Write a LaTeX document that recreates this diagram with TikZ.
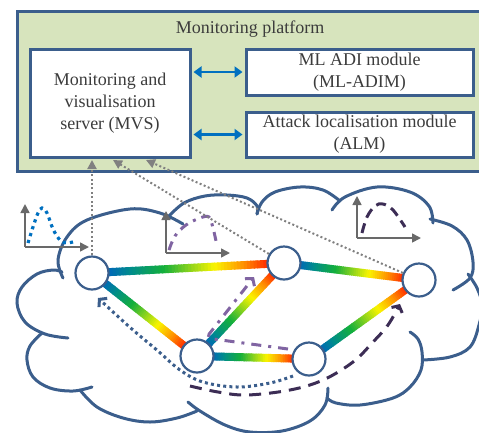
\documentclass[tikz,border=0pt]{standalone}
\usepackage{fontspec}
\setmainfont{Liberation Serif}
\usetikzlibrary{arrows.meta,calc}
\definecolor{platfill}{RGB}{215,228,189}
\definecolor{frameblue}{RGB}{59,94,140}
\definecolor{linkblue}{RGB}{0,112,192}
\definecolor{axgray}{RGB}{105,105,105}
\definecolor{dotgray}{RGB}{128,128,128}
\definecolor{purp}{RGB}{128,100,162}
\definecolor{darkpurp}{RGB}{60,45,85}
\definecolor{txt}{RGB}{60,60,60}
\definecolor{gA}{RGB}{0,100,190}
\definecolor{gB}{RGB}{0,140,140}
\definecolor{gC}{RGB}{20,175,60}
\definecolor{gD}{RGB}{250,245,0}
\definecolor{gE}{RGB}{255,150,0}
\definecolor{gF}{RGB}{255,30,0}
\newcommand\setsegcolor[1]{%
  \ifnum#1<15 \pgfmathtruncatemacro\segP{100*(#1)/15}\colorlet{segc}{gB!\segP!gA}%
  \else\ifnum#1<35 \pgfmathtruncatemacro\segP{100*(#1-15)/20}\colorlet{segc}{gC!\segP!gB}%
  \else\ifnum#1<66 \pgfmathtruncatemacro\segP{100*(#1-35)/31}\colorlet{segc}{gD!\segP!gC}%
  \else\ifnum#1<83 \pgfmathtruncatemacro\segP{100*(#1-66)/17}\colorlet{segc}{gE!\segP!gD}%
  \else \pgfmathtruncatemacro\segP{100*(#1-83)/17}\colorlet{segc}{gF!\segP!gE}%
  \fi\fi\fi\fi}
\newcommand\gradedge[2]{%
  \coordinate (gs) at ($(#1)!14pt!(#2)$);
  \coordinate (ge) at ($(#2)!14pt!(#1)$);
  \foreach \segI in {0,...,49}{%
    \pgfmathtruncatemacro\segM{2*\segI+1}%
    \setsegcolor{\segM}%
    \pgfmathsetmacro\segA{\segI/50}%
    \pgfmathsetmacro\segB{min(1,(\segI+1.3)/50)}%
    \draw[segc, line width=8pt] ($(gs)!\segA!(ge)$) -- ($(gs)!\segB!(ge)$);
  }}
\tikzset{
  box/.style={draw=frameblue, line width=3pt, fill=white, inner sep=0pt, align=center,
    text=txt, font=\fontsize{18}{22}\selectfont},
  netnode/.style={circle, draw=frameblue, line width=2.2pt, fill=white, minimum size=33pt, inner sep=0pt},
  cloudline/.style={draw=frameblue, line width=3pt, line cap=round},
  biarrow/.style={linkblue, line width=2.6pt, {Triangle[length=8pt,width=11pt]}-{Triangle[length=8pt,width=11pt]}, shorten <=2pt, shorten >=2pt},
  gdot/.style={dotgray, line width=2pt, dash pattern=on 2pt off 2.4pt, -{Triangle[length=9pt,width=9pt]}},
  axis/.style={axgray, line width=1.6pt, -{Triangle[length=9pt,width=9pt]}},
  bluedots/.style={linkblue, line width=3.2pt, dash pattern=on 3.2pt off 4pt},
  dashdot/.style={purp, line width=3pt, dash pattern=on 9pt off 6pt on 3pt off 6pt},
  darkdash/.style={darkpurp, line width=3pt, dash pattern=on 10pt off 6pt},
  trafblue/.style={frameblue, line width=3pt, dash pattern=on 3pt off 3.2pt, -{Straight Barb[length=5pt,width=12pt,line width=3pt]}},
  trafpurp/.style={purp, line width=3pt, dash pattern=on 10pt off 7pt on 3pt off 7pt, rounded corners=5pt, -{Straight Barb[length=5pt,width=12pt,line width=3pt]}},
  trafdark/.style={darkpurp, line width=3pt, dash pattern=on 12pt off 8pt, -{Straight Barb[length=5pt,width=12pt,line width=3pt]}}
}
\begin{document}
\begin{tikzpicture}[x=1pt, y=-1pt]
\useasboundingbox (0,0) rectangle (479,432);
% platform
\draw[draw=frameblue, fill=platfill, line width=3pt] (17,11) rectangle (484,171);
\node[text=txt, font=\fontsize{18}{22}\selectfont] (title) at (250,29) {Monitoring platform};
\node[box, minimum width=160pt, minimum height=108pt] (mvs) at (110,103) {Monitoring and\\visualisation\\server (MVS)};
\node[box, minimum width=227pt, minimum height=46pt] (adim) at (359.5,72) {ML ADI module\\(ML-ADIM)};
\node[box, minimum width=227pt, minimum height=45pt] (alm) at (359.5,134.5) {Attack localisation module\\(ALM)};
\draw[biarrow] (mvs.east |- adim.west) -- (adim.west);
\draw[biarrow] (mvs.east |- alm.west) -- (alm.west);
% cloud
\draw[cloudline] plot[smooth, tension=0.6] coordinates {(63,278) (58,260) (67,237) (87,220) (130,209) (160,213) (183,224)};
\draw[cloudline] plot[smooth, tension=0.6] coordinates {(168,217) (184,203) (205,196) (227,195) (247,198) (257,206) (257,214)};
\draw[cloudline] plot[smooth, tension=0.6] coordinates {(257,214) (262,202) (275,192) (300,187) (323,190) (340,201)};
\draw[cloudline] plot[smooth, tension=0.6] coordinates {(332,210) (345,197) (377,187) (410,192) (429,206) (433,223)};
\draw[cloudline] plot[smooth, tension=0.6] coordinates {(430,219) (452,226) (467,240) (473,262) (470,278) (453,290)};
\draw[cloudline] plot[smooth, tension=0.6] coordinates {(468,274) (477,288) (482,305) (479,325) (470,347) (450,357) (423,360)};
\draw[cloudline] plot[smooth, tension=0.6] coordinates {(410,332) (418,339) (422,352) (421,370) (410,387) (393,398) (360,405) (336,403) (327,398)};
\draw[cloudline] plot[smooth, tension=0.6] coordinates {(328,388) (325,405) (310,421) (282,431) (250,432) (225,425) (200,411) (188,402)};
\draw[cloudline] plot[smooth, tension=0.6] coordinates {(80,390) (97,407) (123,418) (150,422) (177,418) (197,411)};
\draw[cloudline] plot[smooth, tension=0.6] coordinates {(42,333) (30,346) (27,360) (33,377) (50,388) (73,391) (92,387)};
\draw[cloudline] plot[smooth, tension=0.6] coordinates {(68,338) (45,334) (25,322) (17,303) (22,287) (37,274) (53,270) (62,272)};
% small plots
\coordinate (p1o) at (25,247); \coordinate (p1y) at (25,204); \coordinate (p1x) at (89,247);
\draw[axis] (p1o) -- (p1y); \draw[axis] (p1o) -- (p1x);
\draw[bluedots] plot[smooth, tension=0.6] coordinates {(28,243) (33,227) (38,213) (42,208) (47,213) (53,229) (60,240) (67,243) (76,241)};
\coordinate (p2o) at (166,253); \coordinate (p2y) at (166,211); \coordinate (p2x) at (230,253);
\draw[axis] (p2o) -- (p2y); \draw[axis] (p2o) -- (p2x);
\draw[dashdot] plot[smooth, tension=0.6] coordinates {(169,250) (175,236) (186,225) (200,218) (209,217) (213,228) (216,241)};
\coordinate (p3o) at (357,238); \coordinate (p3y) at (357,196); \coordinate (p3x) at (421,238);
\draw[axis] (p3o) -- (p3y); \draw[axis] (p3o) -- (p3x);
\draw[darkdash] plot[smooth, tension=0.6] coordinates {(362,233) (367,217) (375,206) (383,204) (393,210) (405,227)};
% network nodes positions
\coordinate (c1) at (92,273);
\coordinate (c2) at (284,263);
\coordinate (c3) at (419,280);
\coordinate (c4) at (197,356);
\coordinate (c5) at (309,359);
% gradient links
\gradedge{c1}{c2}
\gradedge{c1}{c4}
\gradedge{c4}{c2}
\gradedge{c4}{c5}
\gradedge{c2}{c3}
\gradedge{c5}{c3}
% traffic paths
\draw[trafblue] plot[smooth, tension=0.6] coordinates {(293,376) (270,383) (237,387) (203,382) (180,370) (158,351) (133,330) (112,311) (98,298)};
\draw[trafdark] plot[smooth, tension=0.6] coordinates {(190,386) (218,392) (247,395) (290,390) (323,380) (353,362) (373,342) (388,325) (400,304)};
\draw[trafpurp] (288,349) -- (206,338) -- (254,277);
% nodes
\node[netnode] (n1) at (c1) {};
\node[netnode] (n2) at (c2) {};
\node[netnode] (n3) at (c3) {};
\node[netnode] (n4) at (c4) {};
\node[netnode] (n5) at (c5) {};
% monitoring links to MVS
\coordinate (m1) at (92,160);
\coordinate (m2) at (113,160);
\coordinate (m3) at (146,160);
\draw[gdot] (n1) -- (m1);
\draw[gdot] (n2) -- (m2);
\draw[gdot] (n3) -- (m3);
\end{tikzpicture}
\end{document}
